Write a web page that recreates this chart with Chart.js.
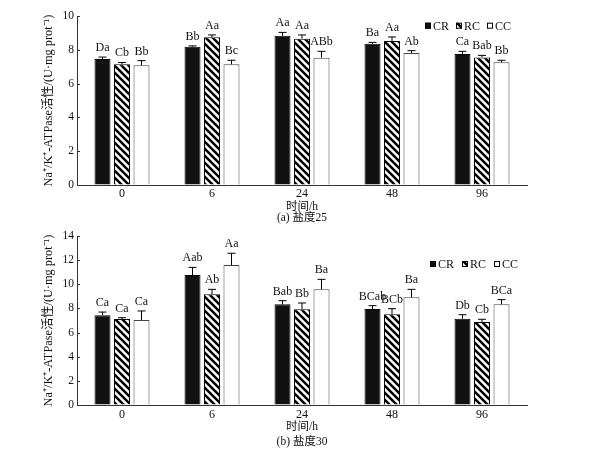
<!DOCTYPE html>
<html>
<head>
<meta charset="utf-8">
<script src="https://cdn.jsdelivr.net/npm/chart.js@4"></script>
<style>
  html, body { margin: 0; padding: 0; background: #fff; }
  .panel { position: absolute; left: 0; width: 592px; }
</style>
</head>
<body>
<div class="panel" style="top:0;height:225px;"><canvas id="chartA"></canvas></div>
<div class="panel" style="top:225px;height:237px;"><canvas id="chartB"></canvas></div>
<script>
// time points (h)
var hours = ['0', '6', '24', '48', '96'];
var groups = ['CR', 'RC', 'CC'];

// (a) salinity 25
var crA = [7.45, 8.18, 8.83, 8.36, 7.75];
var rcA = [7.15, 8.74, 8.66, 8.52, 7.55];
var ccA = [7.08, 7.14, 7.53, 7.81, 7.26];
var crErrA = [0.12, 0.05, 0.20, 0.08, 0.16];
var rcErrA = [0.10, 0.14, 0.22, 0.24, 0.12];
var ccErrA = [0.28, 0.24, 0.38, 0.14, 0.12];
var crLetA = ['Da', 'Bb', 'Aa', 'Ba', 'Ca'];
var rcLetA = ['Cb', 'Aa', 'Aa', 'Aa', 'Bab'];
var ccLetA = ['Bb', 'Bc', 'ABb', 'Ab', 'Bb'];
var ticksA = [0, 2, 4, 6, 8, 10];

// (b) salinity 30
var crB = [7.43, 10.77, 8.34, 7.95, 7.15];
var rcB = [7.12, 9.17, 7.93, 7.51, 6.88];
var ccB = [7.04, 11.60, 9.58, 8.92, 8.34];
var crErrB = [0.27, 0.63, 0.30, 0.28, 0.33];
var rcErrB = [0.11, 0.41, 0.52, 0.47, 0.22];
var ccErrB = [0.75, 0.97, 0.83, 0.66, 0.39];
var crLetB = ['Ca', 'Aab', 'Bab', 'BCab', 'Db'];
var rcLetB = ['Ca', 'Ab', 'Bb', 'BCb', 'Cb'];
var ccLetB = ['Ca', 'Aa', 'Ba', 'Ba', 'BCa'];
var ticksB = [0, 2, 4, 6, 8, 10, 12, 14];

var FONT = "'Liberation Serif', 'Noto Sans CJK SC', serif";
var AXIS = '#333';

// diagonal hatch for RC bars
function makeHatch() {
    var s = 7;
    var c = document.createElement('canvas');
    c.width = s; c.height = s;
    var g = c.getContext('2d');
    g.fillStyle = '#fff';
    g.fillRect(0, 0, s, s);
    g.strokeStyle = '#000';
    g.lineWidth = 2.5;
    g.beginPath();
    g.moveTo(-1, -1); g.lineTo(s + 1, s + 1);
    g.moveTo(-1, s - 1); g.lineTo(1, s + 1);
    g.moveTo(s - 1, -1); g.lineTo(s + 1, 1);
    g.stroke();
    return document.createElement('canvas').getContext('2d').createPattern(c, 'repeat');
}
var hatch = makeHatch();

// inward y ticks, error bars, significance letters and legend
var extrasPlugin = {
    id: 'extras',
    afterDatasetsDraw: function(chart, args, opts) {
        var ctx = chart.ctx;
        var y = chart.scales.y;
        ctx.save();
        ctx.strokeStyle = AXIS;
        ctx.lineWidth = 1;
        ctx.beginPath();
        y.ticks.forEach(function(t) {
            var py = Math.round(y.getPixelForValue(t.value)) + 0.5;
            ctx.moveTo(y.right, py);
            ctx.lineTo(y.right + 3, py);
        });
        ctx.stroke();

        chart.data.datasets.forEach(function(ds, i) {
            var meta = chart.getDatasetMeta(i);
            meta.data.forEach(function(bar, j) {
                var top = y.getPixelForValue(ds.data[j] + ds.err[j]);
                ctx.strokeStyle = '#000';
                ctx.lineWidth = 1;
                ctx.beginPath();
                ctx.moveTo(bar.x, bar.y);
                ctx.lineTo(bar.x, top);
                ctx.moveTo(bar.x - 4, top);
                ctx.lineTo(bar.x + 4, top);
                ctx.stroke();
                ctx.fillStyle = '#111';
                ctx.font = '12px ' + FONT;
                ctx.textAlign = 'center';
                ctx.textBaseline = 'alphabetic';
                ctx.fillText(ds.letters[j], bar.x, top - 6);
            });
        });
        // legend
        var lx = opts.x, ly = opts.y;
        ctx.font = '12px ' + FONT;
        ctx.textAlign = 'left';
        ctx.textBaseline = 'middle';
        chart.data.datasets.forEach(function(ds) {
            ctx.fillStyle = ds.backgroundColor;
            ctx.fillRect(lx, ly - 3, 6, 6);
            ctx.strokeStyle = '#000';
            ctx.lineWidth = 1;
            ctx.strokeRect(lx + 0.5, ly - 2.5, 5, 5);
            ctx.fillStyle = '#111';
            ctx.fillText(ds.label, lx + 8, ly + 1);
            lx += 8 + ctx.measureText(ds.label).width + opts.gap;
        });
        ctx.restore();
    }
};

function makeChart(id, cr, rc, cc, errs, lets, ticks, caption, legendPos, pad, xHeight, lineH, tickPad) {
    var ctx = document.getElementById(id).getContext('2d');
    return new Chart(ctx, {
        type: 'bar',
        data: {
            labels: hours,
            datasets: [
                { label: groups[0], data: cr, err: errs[0], letters: lets[0],
                  backgroundColor: '#111', borderColor: '#000', borderWidth: 1 },
                { label: groups[1], data: rc, err: errs[1], letters: lets[1],
                  backgroundColor: hatch, borderColor: '#000', borderWidth: 1 },
                { label: groups[2], data: cc, err: errs[2], letters: lets[2],
                  backgroundColor: '#fff', borderColor: '#444', borderWidth: 1 }
            ]
        },
        options: {
            responsive: true,
            maintainAspectRatio: false,
            animation: false,
            categoryPercentage: 0.65,
            barPercentage: 0.82,
            layout: { padding: pad },
            scales: {
                x: {
                    grid: { display: false, drawTicks: false },
                    border: { display: true, color: AXIS, width: 1 },
                    ticks: { color: '#111', font: { family: FONT, size: 12 }, padding: tickPad },
                    title: { display: true, text: ['时间/h', caption], color: '#111',
                             font: { family: FONT, size: 11.5, lineHeight: lineH },
                             padding: { top: 0, bottom: 0 } },
                    afterFit: function(s) { s.height = xHeight; }
                },
                y: {
                    min: ticks[0],
                    max: ticks[ticks.length - 1],
                    afterBuildTicks: function(s) {
                        s.ticks = ticks.map(function(v) { return { value: v }; });
                    },
                    grid: { display: true, drawOnChartArea: false, drawTicks: false, color: AXIS },
                    border: { display: true, color: AXIS, width: 1 },
                    ticks: { color: '#111', font: { family: FONT, size: 11.5 }, padding: 3 },
                    title: { display: true, text: 'Na⁺/K⁺-ATPase活性/(U·mg prot⁻¹)', color: '#111',
                             font: { family: FONT, size: 12.3 }, padding: { top: 0, bottom: 0 } },
                    afterFit: function(s) { s.width = 36; }
                }
            },
            plugins: {
                legend: { display: false },
                tooltip: { enabled: false },
                extras: legendPos
            }
        },
        plugins: [extrasPlugin]
    });
}

makeChart('chartA', crA, rcA, ccA, [crErrA, rcErrA, ccErrA], [crLetA, rcLetA, ccLetA], ticksA,
          '(a) 盐度25', { x: 425, y: 25.7, gap: 7 },
          { left: 41, right: 65, top: 16, bottom: 2 }, 38, 0.9, 2);
makeChart('chartB', crB, rcB, ccB, [crErrB, rcErrB, ccErrB], [crLetB, rcLetB, ccLetB], ticksB,
          '(b) 盐度30', { x: 430, y: 39, gap: 8 },
          { left: 41, right: 65, top: 11, bottom: 12.5 }, 44.5, 1.33, 3);
</script>
</body>
</html>
